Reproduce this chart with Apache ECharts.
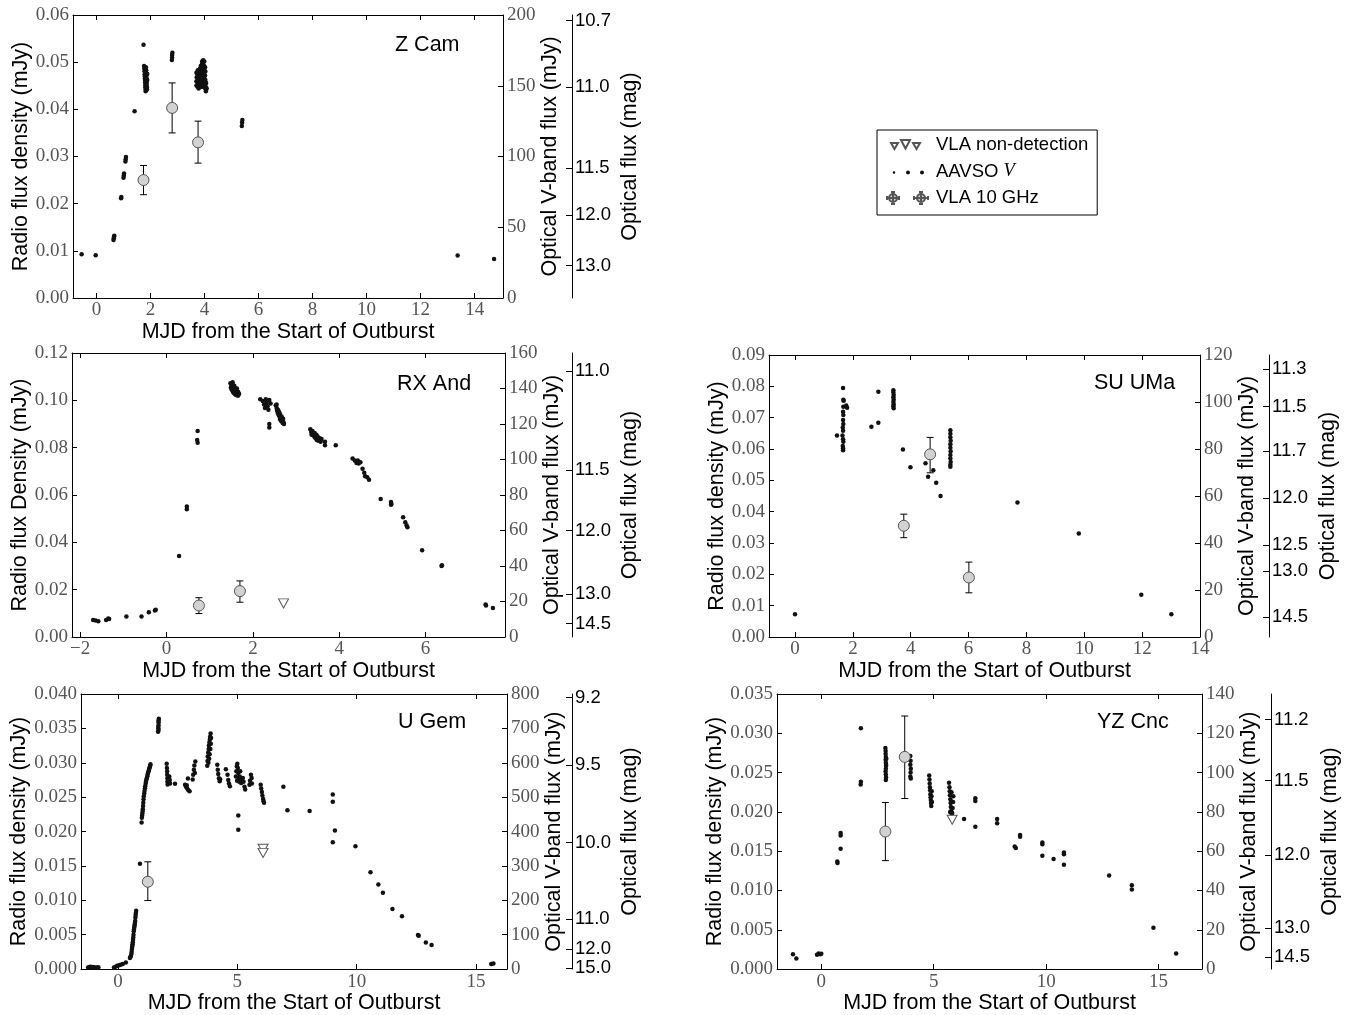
<!DOCTYPE html>
<html><head><meta charset="utf-8">
<script src="https://cdn.jsdelivr.net/npm/echarts@6/dist/echarts.min.js"></script>
<style>html,body{margin:0;padding:0;background:#fff;}#c{width:1354px;height:1015px;}</style>
</head><body><div id="c"></div>
<script>
// ---------------- DATA ----------------
const panelNames = ['Z Cam', 'RX And', 'SU UMa', 'U Gem', 'YZ Cnc'];
const xTickLabels = [[0,2,4,6,8,10,12,14],[-2,0,2,4,6],[0,2,4,6,8,10,12,14],[0,5,10,15],[0,5,10,15]];
// optical magnitude tick labels and the V-band flux (mJy) where each sits
const magLabels = [
  ['10.7','11.0','11.5','12.0','13.0'],
  ['11.0','11.5','12.0','13.0','14.5'],
  ['11.3','11.5','11.7','12.0','12.5','13.0','14.5'],
  ['9.2','9.5','10.0','11.0','12.0','15.0'],
  ['11.2','11.5','12.0','13.0','14.5']
];
const magAtFlux = [
  [196,149,92,58.5,23],
  [150,94,60,24,7.5],
  [114,98,79,59,39,28,8.5],
  [790,593,368,145,58,3],
  [127,96,58,21,6]
];

// AAVSO V-band flux [MJD, mJy]
const zcamAavso = [
[-0.55,31],[-0.03,30.2],
[0.63,41],[0.64,42.3],[0.65,43.4],[0.66,44],
[0.91,70.5],[0.92,71.4],
[1.0,85],[1.01,86.6],[1.02,88],
[1.07,96.4],[1.08,98.1],[1.09,99.6],
[1.41,132],[1.74,179],
[1.76,164],[1.77,162],[1.78,160.2],[1.78,158],[1.79,156.4],[1.79,155],[1.8,153.6],[1.8,152.1],[1.81,150.4],[1.81,149],[1.82,147.6],[1.82,146.2],[1.83,163.1],[1.84,161],[1.84,159.2],[1.85,157],[1.85,155.3],[1.86,153],[1.86,151.2],[1.87,149.1],[1.87,147.4],[1.88,158.3],[1.88,154.1],
[2.79,168.2],[2.8,170],[2.8,171.8],[2.81,173.4],
[3.7,150.2],[3.7,153.1],[3.71,156],[3.7,159.1],
[3.74,149.3],[3.74,152.4],[3.75,155.2],[3.74,158.1],[3.75,161],
[3.78,148.1],[3.78,151.2],[3.79,154.4],[3.78,157.3],[3.79,160.2],
[3.82,150.1],[3.82,153.3],[3.83,156.2],[3.82,159.4],[3.83,162.1],
[3.86,149.2],[3.86,152],[3.87,155.3],[3.86,158.1],[3.87,161.2],[3.86,164],
[3.9,150.3],[3.9,153.2],[3.91,156.1],[3.9,159],[3.91,162.2],[3.9,165.1],[3.91,167.2],
[3.94,151],[3.94,154.1],[3.95,157.2],[3.94,160.3],[3.95,163.1],[3.94,166.2],[3.95,168],
[3.98,149.1],[3.98,152.3],[3.99,155.1],[3.98,158.2],[3.99,161],[3.98,164.2],[3.99,167.1],
[4.02,148.2],[4.02,151.1],[4.03,154],[4.02,157.3],[4.03,160.1],[4.02,163],
[4.05,146.1],[4.05,149.2],[4.06,152],[4.08,148.1],
[5.38,121.6],[5.39,124],[5.4,125.8],
[13.37,30],[14.72,27.5]
];
const rxandAavso = [
[-1.7,9.6],[-1.64,9.3],[-1.58,8.9],[-1.4,9.6],[-1.35,10.4],[-1.33,10.1],[-0.93,11.5],[-0.58,11.5],[-0.41,14],[-0.27,15],[-0.25,15.4],
[0.29,45.7],[0.47,72],[0.47,73.5],[0.72,116],[0.71,111],[0.72,109.5],
[1.48,143],[1.5,142],[1.5,140],[1.52,141],[1.52,139],[1.54,142],[1.54,138],[1.56,140.5],[1.56,137.5],[1.58,139],[1.58,137],[1.6,140],[1.6,138],[1.6,136.5],[1.62,139],[1.62,137],[1.64,138.5],[1.64,136],[1.66,138],[1.66,136],[1.68,137],[1.49,140.5],[1.53,143.5],[1.57,141.5],[1.63,140],
[2.17,134],[2.23,133],[2.26,131],[2.28,129],[2.3,134],[2.32,132],[2.34,130],[2.36,128],[2.38,133.5],[2.41,131.5],[2.38,120],[2.38,118],
[2.53,130.5],[2.55,129],[2.56,127.5],[2.58,128],[2.58,126],[2.6,127],[2.6,125],[2.62,126],[2.62,124],[2.63,122.5],[2.64,125],[2.65,123],[2.66,121.5],[2.67,124],[2.68,122],[2.69,120.5],[2.7,123],[2.71,121],[2.72,120],[2.55,131],
[3.33,117],[3.35,115.5],[3.36,114],[3.38,116],[3.4,114.5],[3.42,113],[3.43,115],[3.45,112],[3.47,114],[3.48,111],[3.5,113],[3.52,110.5],[3.55,112],[3.57,110],[3.59,111.5],
[3.67,110],[3.67,108],[3.92,108],
[4.31,100.5],[4.36,99.5],[4.4,98],[4.43,99.5],[4.45,97.7],[4.49,98.5],
[4.54,94.8],[4.58,92.5],[4.6,90.5],[4.65,90],[4.69,88.6],
[4.96,77.8],[5.2,76],[5.2,74.5],[5.21,75],
[5.48,67.4],[5.53,64.6],[5.56,63],[5.58,61.8],
[5.92,48.9],[6.38,40.4],[6.37,40],
[7.39,18.3],[7.4,17.8],[7.56,16.4]
];
const suumaAavso = [
[0,9.7],[1.45,85.7],
[1.66,106],[1.67,101],[1.68,100.5],[1.67,98],[1.66,95.9],[1.67,94.5],[1.66,92.3],[1.67,90.6],[1.65,89.2],[1.66,87.8],[1.64,85.7],[1.66,84.1],[1.67,83.1],[1.65,81.3],[1.66,80.3],[1.66,79.5],
[1.77,98.5],[1.8,97.6],
[2.64,89.5],[2.88,104.4],[2.88,91.2],
[3.4,105],[3.4,104],[3.41,103],[3.4,102],[3.41,101],[3.4,100],[3.41,99],[3.4,98.2],[3.41,97.3],
[3.73,79.8],[3.99,72.2],[4.51,73.9],[4.6,68.2],[4.78,71],[4.88,65.6],[5.03,60],
[5.37,88],[5.37,86.5],[5.37,85],[5.38,83.5],[5.37,82],[5.37,80.5],[5.38,79],[5.37,77.5],[5.37,76],[5.38,74.5],[5.37,73.3],[5.37,72.4],
[7.69,57.2],[9.81,44],[11.97,18],[13.01,9.7]
];
const ugemAavso = [
[-1.25,5],[-1.2,6],[-1.15,6.5],[-1.1,5.5],[-1.05,6],[-1.0,5],[-0.95,4.5],[-0.85,5.5],[-0.82,4.8],
[-0.17,4.8],[-0.1,7],[-0.03,9.6],[0.05,11],[0.11,12.5],[0.2,15],[0.33,19],
[0.5,32],[0.52,35],[0.54,38],[0.56,44],[0.57,50],[0.58,56],[0.59,62],[0.6,67],[0.61,72],[0.62,78],[0.63,85],[0.64,92],[0.65,100],[0.66,110],[0.67,115],[0.68,120],[0.69,125],[0.7,129],[0.71,135],[0.72,140],[0.73,150],[0.74,157],[0.75,163],[0.76,170],
[0.92,306.6],
[0.99,426],[1.0,440],[1.01,446],[1.02,452],[1.03,458],[1.04,465],[1.05,474],[1.06,484],[1.07,494],[1.08,503],[1.1,511],[1.11,518],[1.13,526],[1.14,532],[1.16,539],[1.17,545],[1.19,551],[1.21,556],[1.23,561],[1.24,566],[1.26,571],[1.28,575],[1.3,579],[1.31,583],[1.33,587],[1.35,591],[1.36,596],
[1.68,690],[1.69,700],[1.7,710],[1.7,718],[1.71,728],[1.7,695],[1.69,705],[1.7,723],
[2.04,597],[2.05,585],[2.06,575],[2.06,565],[2.07,555],[2.07,545],[2.08,537],[2.15,560],[2.17,550],[2.18,540],[2.39,539],
[2.81,536],[2.85,530],[2.9,525],[2.95,520],[3.0,517],[2.88,535],[2.93,554],
[3.13,551],[3.15,565],[3.18,580],[3.2,592],[3.24,604],[3.22,570],
[3.74,591],[3.75,605],[3.76,618],[3.78,630],[3.8,640],[3.81,650],[3.83,660],[3.85,668],[3.86,676],[3.88,685],[3.9,672],[3.89,655],[3.87,640],[3.84,625],[3.82,612],[3.79,600],
[4.16,594],[4.18,580],[4.2,567],[4.23,555],[4.26,546],[4.28,552],
[4.52,581],[4.59,565],[4.62,550],[4.65,540],[4.69,532],
[4.94,560],[4.96,575],[4.98,590],[5.0,597],[5.02,585],[5.04,570],[5.06,556],[5.08,545],[5.1,560],[5.12,575],[5.14,552],[5.16,541],[4.99,548],
[5.04,447],[5.04,405],
[5.23,556],[5.26,545],[5.3,530],[5.33,522],
[5.51,536],[5.53,548],[5.57,565],[5.6,556],[5.61,540],
[5.98,536],[6.0,525],[6.03,515],[6.05,505],[6.08,495],[6.1,488],[6.12,484],
[6.93,530],[7.1,462],[8.03,460],
[9.0,508],[9.0,487],[9.09,403],[9.0,369],
[9.95,357],[10.58,282],[10.91,246],[11.1,222],[11.5,175],[11.9,154],[12.57,99],[12.6,97],[12.9,77],[13.14,70],[15.64,14.5],[15.73,16]
];
const yzcncAavso = [
[-1.26,7.6],[-1.11,5.4],[-0.19,7.3],[-0.12,7.9],[-0.05,7.6],[0.0,7.8],
[0.71,54.8],[0.72,54],[0.86,69.2],[0.86,68],[0.86,61.2],
[1.76,122.6],[1.76,95.3],[1.75,94],
[2.85,112.5],[2.86,111],[2.86,109.5],[2.87,108],[2.86,106.5],[2.87,105],[2.88,103.5],[2.87,102],[2.86,100.5],[2.87,99],[2.88,97.5],[2.87,96.2],[2.88,104],[2.89,107],
[3.96,108.5],[3.97,106],[3.96,104],[3.98,102],[3.97,100],[3.96,98],[3.98,97],
[4.8,98.5],[4.81,96.5],[4.82,94.5],[4.83,92.5],[4.84,91],[4.85,89],[4.86,87.5],[4.87,86],[4.88,84.5],[4.89,83],[4.9,88],[4.91,90.5],[4.92,85],
[5.68,94.8],[5.7,92.5],[5.71,90.5],[5.72,88.5],[5.74,86.5],[5.75,84.5],[5.76,82.5],[5.78,80.5],[5.8,78.5],[5.82,79.5],[5.84,82],[5.86,85],[5.87,88],[5.73,80],[5.79,90],
[6.35,76.4],[6.85,86.9],[6.85,85.5],[6.85,72.5],[7.82,76.4],[7.82,74.2],
[8.6,62.4],[8.65,61.6],[8.84,68.3],[8.84,67.3],
[9.83,64.4],[9.83,63.5],[9.83,57.7],[10.33,56],[10.79,59.4],[10.79,58.5],[10.79,53.1],
[12.8,47.6],[13.81,42.7],[13.81,40.5],[14.77,21.1],[15.78,7.9]
];

// VLA 10 GHz detections [MJD, flux mJy, lower, upper]
const zcamVla = [[1.74,0.025,0.0219,0.0281],[2.8,0.0403,0.035,0.0456],[3.76,0.033,0.0286,0.0375]];
const rxandVla = [[0.75,0.0133,0.0099,0.0166],[1.7,0.0194,0.0147,0.0237]];
const suumaVla = [[3.76,0.0355,0.0317,0.0392],[4.67,0.0583,0.0524,0.0637],[6.01,0.019,0.0141,0.0239]];
const ugemVla = [[1.25,0.0127,0.00997,0.0156]];
const yzcncVla = [[2.85,0.0175,0.0138,0.0212],[3.71,0.027,0.0217,0.0322]];

// VLA non-detections (upper limits) [MJD, mJy]
const zcamLim = [];
const rxandLim = [[2.71,0.0142]];
const suumaLim = [];
const ugemLim = [[6.08,0.0175],[6.08,0.0169]];
const yzcncLim = [[5.82,0.019]];

const aavsoSets = [zcamAavso, rxandAavso, suumaAavso, ugemAavso, yzcncAavso];
const vlaSets = [zcamVla, rxandVla, suumaVla, ugemVla, yzcncVla];
const limSets = [zcamLim, rxandLim, suumaLim, ugemLim, yzcncLim];

// ---------------- LAYOUT ----------------
const layout = [
  {grid:{left:73,top:15,width:430,height:283}, xMin:-0.87, xMax:15.05, rMax:0.06, rStep:0.01, rDec:2, fMax:200, fStep:50, magOff:69, gapL:40, gapR:34, gapM:47, title:[395,34], leftName:'Radio flux density (mJy)'},
  {grid:{left:72,top:353,width:433,height:284}, xMin:-2.19, xMax:7.84, rMax:0.12, rStep:0.02, rDec:2, fMax:160, fStep:20, magOff:67, gapL:39, gapR:33, gapM:47, title:[397,373], leftName:'Radio flux Density (mJy)'},
  {grid:{left:769,top:355,width:431,height:282}, xMin:-0.9, xMax:14.0, rMax:0.09, rStep:0.01, rDec:2, fMax:120, fStep:20, magOff:69, gapL:40, gapR:36, gapM:48, title:[1094,372], leftName:'Radio flux density (mJy)'},
  {grid:{left:81,top:694,width:426,height:278}, xMin:-1.55, xMax:16.3, rMax:0.04, rStep:0.005, rDec:3, fMax:800, fStep:100, magOff:65, gapL:48, gapR:33, gapM:47, title:[398,711], leftName:'Radio flux density (mJy)'},
  {grid:{left:777,top:694,width:425,height:278}, xMin:-1.97, xMax:16.93, rMax:0.035, rStep:0.005, rDec:3, fMax:140, fStep:20, magOff:69, gapL:48, gapR:35, gapM:48, title:[1097,711], leftName:'Radio flux density (mJy)'}
];

const SERIF = 'Liberation Serif';
const SANS = 'Liberation Sans';
const tickColor = '#555';
const nameStyle = {fontFamily:SANS, fontSize:21.5, color:'#000'};

const grids = [], xAxes = [], yAxes = [], series = [], titles = [];

function errRender(params, api){
  const x = api.value(0), lo = api.value(1), hi = api.value(2);
  const a = api.coord([x, lo]), b = api.coord([x, hi]);
  const c = 3.5, st = {stroke:'#000', lineWidth:1};
  return {type:'group', children:[
    {type:'line', shape:{x1:a[0],y1:a[1],x2:b[0],y2:b[1]}, style:st},
    {type:'line', shape:{x1:a[0]-c,y1:a[1],x2:a[0]+c,y2:a[1]}, style:st},
    {type:'line', shape:{x1:b[0]-c,y1:b[1],x2:b[0]+c,y2:b[1]}, style:st}
  ]};
}

layout.forEach((L, p) => {
  grids.push(Object.assign({containLabel:false}, L.grid));
  const xt = xTickLabels[p];
  const fmtX = v => (v < 0 ? '\u2212' + Math.abs(v) : String(v));
  xAxes.push({
    type:'value', gridIndex:p, position:'bottom', min:L.xMin, max:L.xMax,
    axisLine:{show:true, onZero:false, lineStyle:{color:'#000', width:1}},
    axisTick:{show:true, inside:true, length:5, customValues:xt, lineStyle:{color:'#000'}},
    axisLabel:{show:true, customValues:xt, formatter:fmtX, fontFamily:SERIF, fontSize:19, color:tickColor, margin:3, hideOverlap:false},
    splitLine:{show:false},
    name:'MJD from the Start of Outburst', nameLocation:'middle', nameGap:17, nameTextStyle:nameStyle
  });
  xAxes.push({
    type:'value', gridIndex:p, position:'top', min:L.xMin, max:L.xMax,
    axisLine:{show:true, onZero:false, lineStyle:{color:'#000', width:1}},
    axisTick:{show:true, inside:true, length:5, customValues:xt, lineStyle:{color:'#000'}},
    axisLabel:{show:false}, splitLine:{show:false}
  });
  yAxes.push({
    type:'value', gridIndex:p, position:'left', min:0, max:L.rMax, interval:L.rStep,
    axisLine:{show:true, onZero:false, lineStyle:{color:'#000', width:1}},
    axisTick:{show:true, inside:true, length:5, lineStyle:{color:'#000'}},
    axisLabel:{formatter:v => v.toFixed(L.rDec), fontFamily:SERIF, fontSize:19, color:tickColor, margin:4, hideOverlap:false},
    splitLine:{show:false},
    name:L.leftName, nameLocation:'middle', nameRotate:90, nameGap:L.gapL, nameTextStyle:nameStyle
  });
  yAxes.push({
    type:'value', gridIndex:p, position:'right', min:0, max:L.fMax, interval:L.fStep,
    axisLine:{show:true, onZero:false, lineStyle:{color:'#000', width:1}},
    axisTick:{show:true, inside:true, length:5, lineStyle:{color:'#000'}},
    axisLabel:{fontFamily:SERIF, fontSize:19, color:tickColor, margin:4, hideOverlap:false},
    splitLine:{show:false},
    name:'Optical V-band flux (mJy)', nameLocation:'middle', nameRotate:90, nameGap:L.gapR, nameTextStyle:nameStyle
  });
  const mp = magAtFlux[p], ml = magLabels[p];
  yAxes.push({
    type:'value', gridIndex:p, position:'right', offset:L.magOff, min:0, max:L.fMax,
    axisLine:{show:true, onZero:false, lineStyle:{color:'#000', width:1}},
    axisTick:{show:true, inside:true, length:6, customValues:mp, lineStyle:{color:'#000'}},
    axisLabel:{show:true, customValues:mp, formatter:v => { const i = mp.indexOf(v); return i >= 0 ? ml[i] : ''; }, fontFamily:SANS, fontSize:18.5, lineHeight:18, color:'#000', margin:3, hideOverlap:false},
    splitLine:{show:false},
    name:'Optical flux (mag)', nameLocation:'middle', nameRotate:90, nameGap:L.gapM, nameTextStyle:nameStyle
  });
  titles.push({text:panelNames[p], left:L.title[0], top:L.title[1], padding:0,
    textStyle:{fontFamily:SANS, fontSize:21.5, fontWeight:'normal', color:'#000'}});

  const xi = 2*p, yR = 3*p, yF = 3*p + 1;
  series.push({
    name:'AAVSO V', type:'scatter', xAxisIndex:xi, yAxisIndex:yF, data:aavsoSets[p],
    symbol:'circle', symbolSize:4.5, itemStyle:{color:'#111', opacity:1}, z:2, silent:true
  });
  series.push({
    name:'VLA 10 GHz err', type:'custom', xAxisIndex:xi, yAxisIndex:yR,
    data:vlaSets[p].map(d => [d[0], d[2], d[3]]), encode:{x:0, y:[1,2]},
    renderItem:errRender, z:3, silent:true
  });
  series.push({
    name:'VLA 10 GHz', type:'scatter', xAxisIndex:xi, yAxisIndex:yR,
    data:vlaSets[p].map(d => [d[0], d[1]]),
    symbol:'circle', symbolSize:11, itemStyle:{color:'#d2d2d2', borderColor:'#555', borderWidth:1, opacity:1}, z:4, silent:true
  });
  series.push({
    name:'VLA non-detection', type:'scatter', xAxisIndex:xi, yAxisIndex:yR, data:limSets[p],
    symbol:'path://M0,0L10,0L5,9Z', symbolSize:[10,9], itemStyle:{color:'#fff', borderColor:'#555', borderWidth:1, opacity:1}, z:4, silent:true
  });
});

function circ(cx, cy, r){ return `M${cx-r},${cy}a${r},${r} 0 1,0 ${2*r},0a${r},${r} 0 1,0 ${-2*r},0Z`; }
const iconTri = 'path://M0,0M45,14M5,5L12,5L8.5,11ZM15,2L24,2L19.5,10.5ZM27,5L34,5L30.5,11Z';
const iconDots = 'path://M0,0M45,14' + circ(8,8,1.3) + circ(22,8,2) + circ(36,8,2);
const iconVla = 'path://M0,0M45,14' +
  'M1,5L1,9M1,7L13,7M13,5L13,9M7,1L7,13M5,1L9,1M5,13L9,13' + circ(7,7,4) +
  'M28,5L28,9M28,7L42,7M42,5L42,9M35,1L35,13M33,1L37,1M33,13L37,13' + circ(35,7,4);

const option = {
  animation:false,
  backgroundColor:'#fff',
  title:titles,
  grid:grids, xAxis:xAxes, yAxis:yAxes, series:series,
  legend:{
    left:877, top:130, orient:'vertical', selectedMode:false,
    padding:[5,9,7,8], itemGap:6.5, itemWidth:45, itemHeight:14,
    borderColor:'#000', borderWidth:1, borderRadius:0, backgroundColor:'#fff',
    textStyle:{fontFamily:SANS, fontSize:18.5, color:'#000', lineHeight:20,
      rich:{it:{fontFamily:SERIF, fontStyle:'italic', fontSize:18.5, color:'#000'}}},
    formatter: n => (n === 'AAVSO V' ? 'AAVSO {it|V}' : n),
    data:[{name:'VLA non-detection', icon:iconTri},{name:'AAVSO V', icon:iconDots},{name:'VLA 10 GHz', icon:iconVla}]
  }
};
const chart = echarts.init(document.getElementById('c'), null, {renderer:'canvas'});
chart.setOption(option);
</script></body></html>
